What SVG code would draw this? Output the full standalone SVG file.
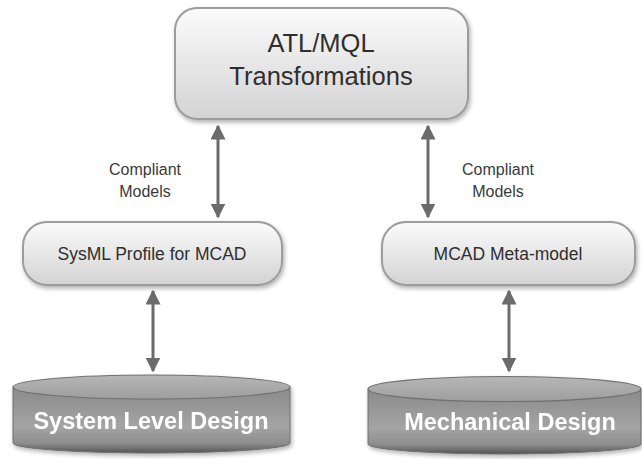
<svg xmlns="http://www.w3.org/2000/svg" width="642" height="459" viewBox="0 0 642 459">
<style>
.box{fill:url(#boxg);stroke:#9c9c9c;stroke-width:2}
.t{font-family:"Liberation Sans",Arial,sans-serif;fill:#2f2f2f;text-anchor:middle}
.lbl{font-family:"Liberation Sans",Arial,sans-serif;fill:#3a3a3a;text-anchor:middle;font-size:16px}
.ct{font-family:"Liberation Sans",Arial,sans-serif;fill:#ffffff;text-anchor:middle;font-weight:bold;font-size:23.5px}
.conn{stroke:#6b6b6b;stroke-width:3;fill:none;marker-start:url(#ah);marker-end:url(#ah)}
.body{fill:url(#cylg);stroke:#6e6e6e;stroke-width:1}
.top{fill:url(#topg);stroke:#707070;stroke-width:1.2}
</style>
<defs>
<linearGradient id="boxg" x1="0" y1="0" x2="0" y2="1">
<stop offset="0" stop-color="#fbfbfb"/>
<stop offset="1" stop-color="#d3d3d3"/>
</linearGradient>
<linearGradient id="cylg" x1="0" y1="0" x2="0" y2="1">
<stop offset="0" stop-color="#8a8a8a"/>
<stop offset="0.6" stop-color="#a4a4a4"/>
<stop offset="0.85" stop-color="#8e8e8e"/>
<stop offset="1" stop-color="#555555"/>
</linearGradient>
<linearGradient id="topg" x1="0" y1="0" x2="0" y2="1">
<stop offset="0" stop-color="#b6b6b6"/>
<stop offset="1" stop-color="#9e9e9e"/>
</linearGradient>
<filter id="sh" x="-10%" y="-10%" width="130%" height="140%">
<feDropShadow dx="1.5" dy="2.5" stdDeviation="2" flood-color="#000" flood-opacity="0.3"/>
</filter>
<marker id="ah" viewBox="0 0 10 10" refX="9" refY="5" markerWidth="5" markerHeight="5" orient="auto-start-reverse" markerUnits="strokeWidth">
<path d="M0,0 L10,5 L0,10 Z" fill="#6b6b6b"/>
</marker>
</defs>
<g id="connectors">
<line class="conn" x1="218" y1="126" x2="218" y2="217"/>
<line class="conn" x1="428" y1="126" x2="428" y2="217"/>
<line class="conn" x1="153" y1="291" x2="153" y2="371"/>
<line class="conn" x1="509" y1="291" x2="509" y2="371"/>
</g>
<g id="atl">
<rect class="box" x="175" y="8" width="293" height="111" rx="22" filter="url(#sh)"/>
<text class="t" x="321" y="52" font-size="25.5">ATL/MQL</text>
<text class="t" x="321" y="85" font-size="25.5">Transformations</text>
</g>
<g id="label-left">
<text class="lbl" x="145" y="175">Compliant</text>
<text class="lbl" x="145" y="197">Models</text>
</g>
<g id="label-right">
<text class="lbl" x="498" y="175">Compliant</text>
<text class="lbl" x="498" y="197">Models</text>
</g>
<g id="sysml">
<rect class="box" x="23" y="222" width="259" height="63" rx="24" filter="url(#sh)"/>
<text class="t" x="152" y="260" font-size="17.5">SysML Profile for MCAD</text>
</g>
<g id="mcad">
<rect class="box" x="382" y="222" width="253" height="63" rx="24" filter="url(#sh)"/>
<text class="t" x="508" y="260" font-size="17.5">MCAD Meta-model</text>
</g>
<g id="sld" filter="url(#sh)">
<path class="body" d="M13,387 L13,443 A138.5,10 0 0 0 290,443 L290,387 Z"/>
<ellipse class="top" cx="151.5" cy="387" rx="138.5" ry="12"/>
<text class="ct" x="151" y="429">System Level Design</text>
</g>
<g id="mech" filter="url(#sh)">
<path class="body" d="M368,389 L368,444 A136.5,10 0 0 0 641,444 L641,389 Z"/>
<ellipse class="top" cx="504.5" cy="389" rx="136.5" ry="12.5"/>
<text class="ct" x="510" y="430">Mechanical Design</text>
</g>
</svg>
